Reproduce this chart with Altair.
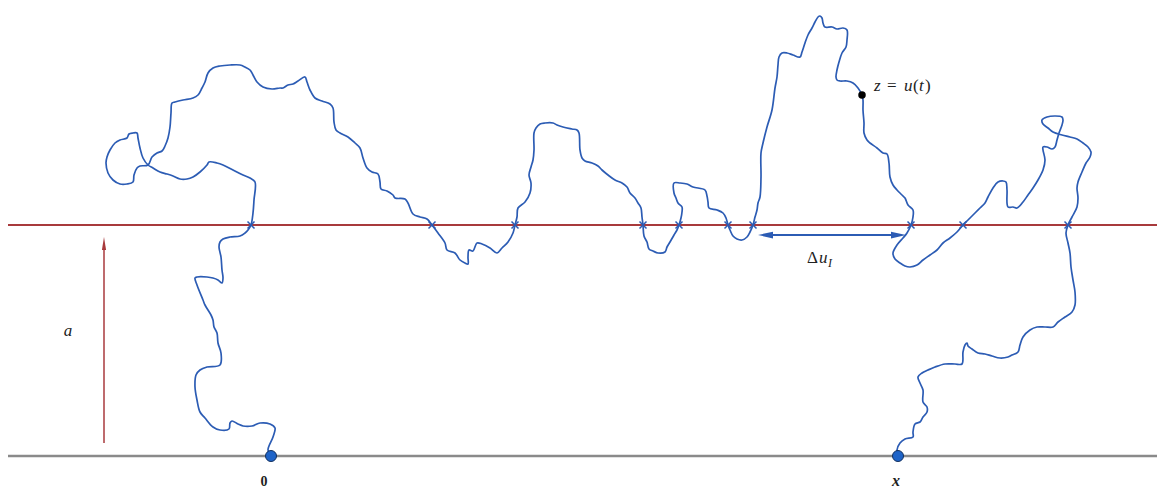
import altair as alt
import pandas as pd

# Picture coordinates: u to the right, depth measured downward from the top.
GROUND = 456       # level of the lower (gray) line
LEVEL_A = 225      # level of the red line z = a
LEFT, RIGHT = 8, 1157
TOP, BOTTOM = 8, 488

# The path u(t), split into arcs between successive crossings of level a
arc_1 = [(271,456),(268,450),(273,437),(275,428),(270,424),(260,423),(252,426),(243,426),(238,424),
         (232,421),(230,423),(229,429),(220,430),(213,427),(205,418),(200,412),(197,400),(195,387),
         (196,375),(200,370),(207,367),(220,365),(221,353),(218,343),(217,333),(214,327),(213,320),
         (211,315),(205,305),(203,300),(197,285),(195,278),(197,277),(207,277),(213,278),(218,280),
         (222,283),(223,278),(222,270),(221,257),(219,247),(220,242),(223,239),(230,237),(240,236),
         (245,233),(248,230),(251,225)]
arc_2 = [(253,213),(254,200),(255,182),(250,178),(243,175),(233,170),(223,165),(217,163),(209,162),
         (207,165),(200,172),(193,177),(187,179),(180,179),(173,176),(167,174),(160,172),(153,168),
         (148,165),(143,158),(140,148),(138,138),(137,133),(133,133),(129,134),(127,138),(120,140),
         (115,143),(110,150),(107,157),(106,163),(108,173),(113,180),(120,184),(127,184),(133,182),
         (134,175),(137,168),(140,166),(148,165),(152,157),(157,153),(162,151),(165,146),(168,138),
         (170,127),(171,113),(172,103),(175,102),(183,100),(193,98),(198,95),(202,88),(205,82),
         (208,73),(213,68),(220,66),(230,65),(240,65),(245,67),(250,70),(253,75),(257,82),(263,87),
         (272,89),(280,88),(283,88),(288,85),(293,84),(298,81),(305,77),(307,82),(310,90),(315,98),
         (322,101),(330,104),(333,108),(334,122),(336,130),(340,133),(348,137),(355,143),(360,148),
         (363,158),(367,168),(372,172),(378,174),(380,182),(381,189),(387,191),(393,195),(395,198),
         (405,199),(408,203),(413,214),(420,217),(427,219),(432,225)]
arc_3 = [(438,233),(445,243),(447,250),(455,253),(460,260),(465,263),(468,264),(468,257),(469,250),
         (473,251),(477,243),(482,244),(490,248),(497,253),(502,248),(508,242),(513,233),(515,225)]
arc_4 = [(517,217),(518,208),(525,202),(530,193),(531,183),(529,175),(531,167),(533,160),(534,150),
         (534,133),(536,128),(540,124),(545,123),(553,123),(557,125),(563,127),(572,129),(577,130),
         (579,133),(580,150),(582,158),(585,161),(592,163),(598,166),(602,170),(608,175),(615,180),
         (622,183),(627,187),(630,193),(635,198),(638,203),(641,208),(642,217),(643,225)]
arc_5 = [(644,236),(647,242),(649,249),(653,251),(658,253),(665,252),(667,247),(670,242),(674,235),
         (677,230),(679,225),(681,218),(682,212),(682,207),(678,203),(676,198),(674,193),(674,183),
         (680,183),(687,184),(693,187),(705,190),(707,196),(708,202),(709,208),(717,210),(723,213),
         (726,218),(728,225),(730,230),(733,236),(737,239),(742,240),(747,237),(750,232),(753,225)]
arc_6 = [(755,217),(757,210),(758,203),(760,197),(761,177),(761,153),(763,143),(767,127),(772,110),
         (775,88),(777,77),(778,65),(779,57),(782,53),(787,53),(793,55),(800,57),(802,52),(805,43),
         (808,35),(812,28),(815,22),(818,17),(820,16),(822,18),(823,23),(825,27),(832,27),(837,29),
         (843,28),(847,30),(847,40),(846,47),(842,53),(839,62),(837,70),(836,77),(837,80),(840,81),
         (847,81),(853,83),(858,88),(862,95),(863,100),(863,110),(864,123),(864,133),(867,140),
         (870,143),(877,148),(883,153),(887,154),(889,163),(890,177),(893,185),(897,190),(902,195),
         (905,198),(908,205),(913,210),(913,217),(911,225)]
arc_7 = [(907,233),(903,238),(897,245),(893,253),(895,259),(900,263),(905,266),(910,267),(917,265),
         (923,260),(930,255),(937,250),(943,243),(950,238),(957,232),(963,225)]
arc_8 = [(968,220),(975,213),(980,208),(985,203),(988,197),(993,188),(998,182),(1003,181),(1006,182),
         (1007,190),(1008,207),(1013,207),(1017,208),(1023,202),(1028,195),(1033,188),(1038,180),
         (1043,170),(1045,160),(1043,150),(1043,147),(1047,147),(1052,149),(1055,147),(1057,140),
         (1059,133),(1062,125),(1063,120),(1062,117),(1055,116),(1047,117),(1042,120),(1043,124),
         (1048,128),(1053,132),(1062,135),(1070,137),(1077,139),(1083,143),(1088,147),(1091,152),
         (1090,157),(1086,163),(1082,172),(1078,182),(1077,188),(1078,198),(1077,207),(1072,217),
         (1068,225)]
arc_9 = [(1066,233),(1068,243),(1070,253),(1071,267),(1073,280),(1075,292),(1075,305),(1072,312),
         (1065,317),(1058,322),(1053,327),(1045,327),(1037,327),(1030,330),(1023,337),(1020,345),
         (1018,352),(1012,355),(1008,357),(1000,358),(992,356),(985,354),(978,353),(972,349),
         (968,346),(967,343),(965,345),(963,352),(962,364),(955,364),(945,364),(935,367),(928,370),
         (922,373),(918,377),(920,383),(923,390),(923,402),(927,407),(927,412),(923,417),(920,422),
         (915,424),(913,432),(913,437),(905,439),(900,443),(897,450),(898,456)]

crossings_u = [251, 432, 515, 643, 679, 728, 753, 911, 963, 1068]
start_u, end_u = 271, 898          # the points 0 and x on the ground line
marked_point = (862, 95)           # z = u(t)
delta_u = (758, 906, 235)          # extent of the interval Δu_I and its level
a_arrow_u = 104
a_arrow_from, a_arrow_to = 443, 237

BLUE = "#2c5cb4"
RED = "#a83a3c"
GRAY = "#8a8a8a"
SERIF = "Liberation Serif"

xs = alt.Scale(domain=[LEFT, RIGHT], nice=False, zero=False)
ys = alt.Scale(domain=[TOP, BOTTOM], nice=False, zero=False, reverse=True)

def X(f="x"):
    return alt.X(f"{f}:Q", scale=xs, axis=None)

def Y(f="y"):
    return alt.Y(f"{f}:Q", scale=ys, axis=None)

path = []
for arc in [arc_1, arc_2, arc_3, arc_4, arc_5, arc_6, arc_7, arc_8, arc_9]:
    path.extend(arc)
path_df = pd.DataFrame({"x": [p[0] for p in path], "y": [p[1] for p in path],
                        "i": list(range(len(path)))})

hlines = pd.DataFrame({"x": [LEFT, LEFT], "x2": [RIGHT, RIGHT], "y": [GROUND, LEVEL_A],
                       "kind": ["ground", "a"]})
ground_line = alt.Chart(hlines[hlines.kind == "ground"]).mark_rule(
    color=GRAY, strokeWidth=2.5).encode(x=X(), x2="x2:Q", y=Y())
a_line = alt.Chart(hlines[hlines.kind == "a"]).mark_rule(
    color=RED, strokeWidth=2).encode(x=X(), x2="x2:Q", y=Y())

a_arrow = alt.Chart(pd.DataFrame({"x": [a_arrow_u], "y": [a_arrow_from], "y2": [a_arrow_to + 8]})
                    ).mark_rule(color=RED, strokeWidth=1.5).encode(x=X(), y=Y(), y2="y2:Q")
a_head = alt.Chart(pd.DataFrame({"x": [a_arrow_u], "y": [a_arrow_to + 6.5]})).mark_point(
    shape="M0,-1L0.32,1L-0.32,1Z", filled=True, color=RED, size=169, opacity=1
).encode(x=X(), y=Y())

curve = alt.Chart(path_df).mark_line(color=BLUE, strokeWidth=1.7, interpolate="catmull-rom").encode(
    x=X(), y=Y(), order="i:Q")

cross_df = pd.DataFrame({"x": crossings_u, "y": [LEVEL_A] * len(crossings_u)})
cross_marks = alt.Chart(cross_df).mark_point(
    shape="M-1,-1L1,1M-1,1L1,-1", filled=False, color=BLUE, strokeWidth=1.5, size=49, opacity=1
).encode(x=X(), y=Y())

du_x, du_x2, du_y = delta_u
du_line = alt.Chart(pd.DataFrame({"x": [du_x + 8], "x2": [du_x2 - 8], "y": [du_y]})).mark_rule(
    color=BLUE, strokeWidth=2).encode(x=X(), x2="x2:Q", y=Y())
du_left = alt.Chart(pd.DataFrame({"x": [du_x + 7.5], "y": [du_y]})).mark_point(
    shape="M-1,0L1,-0.45L1,0.45Z", filled=True, color=BLUE, size=225, opacity=1
).encode(x=X(), y=Y())
du_right = alt.Chart(pd.DataFrame({"x": [du_x2 - 7.5], "y": [du_y]})).mark_point(
    shape="M1,0L-1,-0.45L-1,0.45Z", filled=True, color=BLUE, size=225, opacity=1
).encode(x=X(), y=Y())

ends = alt.Chart(pd.DataFrame({"x": [start_u, end_u], "y": [GROUND, GROUND]})).mark_point(
    shape="circle", filled=True, fill="#1f64c8", stroke="#13305e", strokeWidth=1, size=121, opacity=1
).encode(x=X(), y=Y())
zdot = alt.Chart(pd.DataFrame({"x": [marked_point[0]], "y": [marked_point[1]]})).mark_point(
    shape="circle", filled=True, color="#000000", size=56, opacity=1).encode(x=X(), y=Y())

def label(x, y, text, size=17, style="normal", weight="normal", align="left", baseline="alphabetic"):
    return alt.Chart(pd.DataFrame({"x": [x], "y": [y], "t": [text]})).mark_text(
        font=SERIF, fontSize=size, fontStyle=style, fontWeight=weight, align=align,
        baseline=baseline, color="#222222").encode(x=X(), y=Y(), text="t:N")

texts = [
    label(874, 91, "z", style="italic"),
    label(887, 91, "="),
    label(904, 91, "u", style="italic"),
    label(913, 91, "(", ),
    label(919, 91, "t", style="italic"),
    label(925, 91, ")"),
    label(807, 263, "Δ"),
    label(819, 263, "u", style="italic"),
    label(828, 267, "I", size=12, style="italic"),
    label(68, 336, "a", style="italic", align="center"),
    label(264, 486, "0", size=14, weight="bold", align="center"),
    label(896, 486, "x", size=16, style="italic", weight="bold", align="center"),
]

chart = alt.layer(
    ground_line, a_line, a_arrow, a_head, curve, cross_marks, du_line, du_left, du_right,
    ends, zdot, *texts
).properties(width=RIGHT - LEFT, height=BOTTOM - TOP, padding=0,
             autosize=alt.AutoSizeParams(type="none")
).configure_view(stroke=None)

chart.save("out.html", embed_options={"renderer": "svg", "actions": False})
